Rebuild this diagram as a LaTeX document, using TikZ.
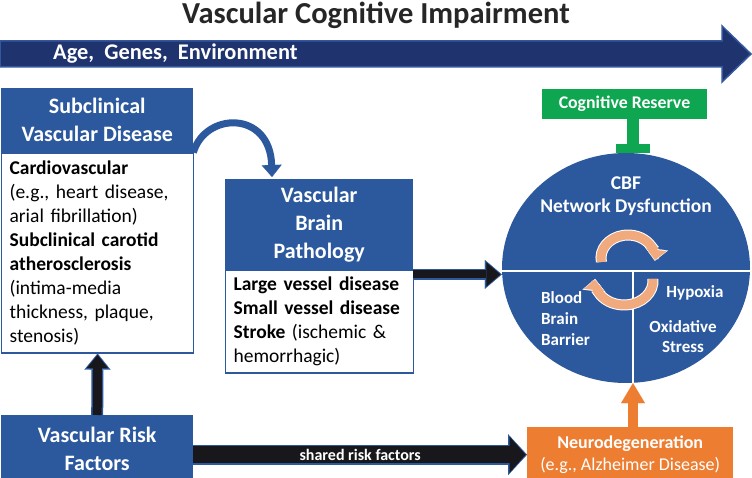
\documentclass[tikz,border=0pt]{standalone}
\usepackage{fontspec}
\setmainfont{Carlito}
\usepackage{tikz}
\usetikzlibrary{shapes,arrows.meta}
\definecolor{navy}{RGB}{31,52,110}
\definecolor{navyedge}{RGB}{52,88,160}
\definecolor{boxblue}{RGB}{44,89,158}
\definecolor{resgreen}{RGB}{14,166,80}
\definecolor{neuroorange}{RGB}{237,125,49}
\definecolor{cycsalmon}{RGB}{241,170,125}
\definecolor{arrowblack}{RGB}{24,24,28}

\begin{document}
\begin{tikzpicture}[x=1pt,y=-1pt,
  bluehead/.style={fill=boxblue, text=white, align=center, inner sep=0pt, font=\fontsize{22}{28}\selectfont\bfseries},
  bodybox/.style={fill=white, draw=boxblue, line width=1.2pt, align=left, inner xsep=8pt, inner ysep=0pt, font=\fontsize{19.5}{24}\selectfont},
  circtext/.style={text=white, align=center, inner sep=0pt, font=\fontsize{17}{21}\selectfont\bfseries},
  blkarrow/.style n args={3}{draw=arrowblack, line width=#1, shorten >=1.5pt, -{Triangle[length=#2,width=#3,line width=0.1pt]},
    preaction={draw=boxblue, line width=#1+3pt, shorten >=0pt, -{Triangle[length=#2+3pt,width=#3+5pt,line width=0.1pt]}}},
  cycarrow/.style={draw=cycsalmon, line width=9pt, shorten >=1pt, -{Triangle[length=10pt,width=20pt,line width=0.1pt]},
    preaction={draw=white, line width=11pt, shorten >=0pt, -{Triangle[length=12pt,width=23pt,line width=0.1pt]}}}]
\useasboundingbox (0,0) rectangle (752,478);
% title and banner
\node[font=\fontsize{30.5}{34}\selectfont\bfseries, text=black!85] (title) at (376,15) {Vascular Cognitive Impairment};
\fill[navy, draw=navyedge, line width=1.5pt] (0,41) -- (722,41) -- (722,26) -- (751,54) -- (722,82) -- (722,67) -- (0,67) -- cycle;
\node[anchor=west, inner sep=0pt, text=white, font=\fontsize{22.4}{26}\selectfont\bfseries] (age) at (53,54) {Age,\ \ Genes,\ \ Environment};
% left column
\node[bluehead, minimum width=192pt, minimum height=64pt, anchor=north west] (subhead) at (1,88) {Subclinical\\Vascular Disease};
\node[bodybox, text width=176pt, minimum height=200pt, anchor=north west] (subbody) at (subhead.south west) {\textbf{Cardiovascular}\\(e.g., heart disease,\\arial fibrillation)\\\textbf{Subclinical carotid}\\\textbf{atherosclerosis}\\(intima-media\\thickness, plaque,\\stenosis)};
\node[bluehead, minimum width=192pt, minimum height=67pt, anchor=north west] (risk) at (1,415) {Vascular Risk\\Factors};
% middle
\node[bluehead, minimum width=188pt, minimum height=90pt, anchor=north west] (vbhead) at (225,179) {Vascular\\Brain\\Pathology};
\node[bodybox, text width=172pt, minimum height=103pt, anchor=north west] (vbbody) at (vbhead.south west) {\textbf{Large vessel disease}\\\textbf{Small vessel disease}\\\textbf{Stroke} (ischemic \&\\hemorrhagic)};
% right
\node[fill=resgreen, text=white, minimum width=165pt, minimum height=30pt, font=\fontsize{17.8}{20}\selectfont\bfseries] (cogres) at (624.5,104) {Cognitive Reserve};
\node[ellipse, fill=boxblue, minimum width=248pt, minimum height=230pt, inner sep=0pt] (cbf) at (626,268) {};
\coordinate (mid) at (633,271);
\draw[white, line width=2pt] (cbf.west |- mid) -- (cbf.east |- mid);
\draw[white, line width=2pt] (mid) -- (mid |- cbf.south);
\node[circtext, font=\fontsize{19.5}{24}\selectfont\bfseries] (cbflabel) at (626,183) {CBF};
\node[circtext, font=\fontsize{19.5}{24}\selectfont\bfseries] (netlabel) at (626,207) {Network Dysfunction};
\node[circtext, anchor=west, align=left] (bbb) at (541,319) {Blood\\Brain\\Barrier};
\node[circtext] (hypoxia) at (695,293) {Hypoxia};
\node[circtext, font=\fontsize{17}{20}\selectfont\bfseries] (oxid) at (683,337) {Oxidative\\Stress};
% cycle
\draw[cycarrow] (601.4,262) arc[start angle=170, end angle=367, x radius=27, y radius=23];
\draw[cycarrow] (652.9,278.9) arc[start angle=-5, end angle=185, x radius=29, y radius=24];
\node[fill=neuroorange, text=white, align=center, minimum width=206pt, minimum height=55pt, anchor=north west, font=\fontsize{18}{22}\selectfont] (neuro) at (527,427) {\textbf{Neurodegeneration}\\(e.g., Alzheimer Disease)};
% connectors
\coordinate (curvetip) at (272,177);
\draw[draw=boxblue, line width=7pt, -{Triangle[length=12pt,width=20pt,line width=0.1pt]}] (subhead.south east) .. controls (205,112) and (270,110) .. (curvetip);
\draw[blkarrow={9pt}{13pt}{21pt}] (risk.north) -- (subbody.south);
\draw[blkarrow={17pt}{16pt}{36pt}] ([yshift=-6pt]risk.east) -- ([yshift=-6pt]risk.east -| neuro.west) node[midway, text=white, font=\fontsize{16}{18}\selectfont\bfseries] (shared) {shared risk factors};
\draw[blkarrow={8pt}{14pt}{24pt}] ([yshift=-5pt]vbhead.south east) -- ([yshift=-5pt]vbhead.south east -| cbf.west);
\draw[draw=neuroorange, line width=10pt, -{Triangle[length=20pt,width=24pt,line width=0.1pt]}] (neuro.north -| mid) -- (mid |- cbf.south);
\draw[draw=resgreen, line width=12pt, -{Bar[width=34pt,line width=9pt]}] (cogres.south -| mid) -- (mid |- cbf.north);
\end{tikzpicture}
\end{document}
